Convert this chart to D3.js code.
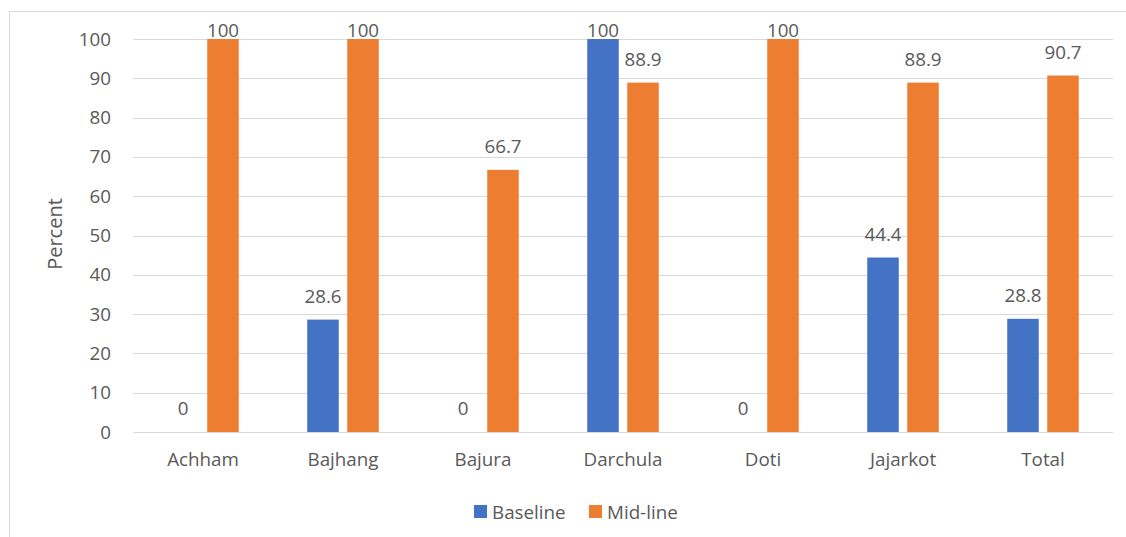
<!DOCTYPE html>
<html>
<head>
<meta charset="utf-8">
<script src="https://cdn.jsdelivr.net/npm/d3@7"></script>
<style>
  html, body { margin: 0; padding: 0; background: #fff; }
  svg { display: block; }
  text { font-family: "Open Sans", "Noto Sans", sans-serif; fill: #595959; }
</style>
</head>
<body>
<svg id="chart" width="1126" height="537"></svg>
<script>
// District coverage, baseline vs mid-line (%)
const districts = ["Achham", "Bajhang", "Bajura", "Darchula", "Doti", "Jajarkot", "Total"];
const baseline = [0, 28.6, 0, 100, 0, 44.4, 28.8];
const midline = [100, 100, 66.7, 88.9, 100, 88.9, 90.7];
const seriesNames = ["Baseline", "Mid-line"];
const seriesColors = ["#4472C4", "#ED7D31"];
const yTicks = [0, 10, 20, 30, 40, 50, 60, 70, 80, 90, 100];

const svg = d3.select("#chart");
const W = 1126, H = 537;
const FS = 18.8;

// outer chart frame
svg.append("rect")
  .attr("x", 9.5).attr("y", 11.5)
  .attr("width", W + 10).attr("height", H + 10)
  .attr("fill", "#fff").attr("stroke", "#d9d9d9").attr("stroke-width", 1);

const plot = { left: 133, right: 1113, top: 39, bottom: 432 };

const x0 = d3.scaleBand().domain(districts).range([plot.left, plot.right]).paddingInner(0).paddingOuter(0);
const y = d3.scaleLinear().domain([0, 100]).range([plot.bottom, plot.top]);

const barW = 31.5, barGap = 8.5;
const offsets = [-(barGap / 2 + barW), barGap / 2];

// gridlines
svg.append("g")
  .selectAll("line")
  .data(yTicks)
  .join("line")
  .attr("x1", plot.left).attr("x2", plot.right)
  .attr("y1", d => Math.round(y(d)) + 0.5).attr("y2", d => Math.round(y(d)) + 0.5)
  .attr("stroke", "#d9d9d9").attr("stroke-width", 1.2);

// y axis labels
const yAxis = d3.axisLeft(y).tickValues(yTicks).tickSize(0).tickPadding(0);
const gy = svg.append("g").attr("transform", `translate(${plot.left - 22},0)`).call(yAxis);
gy.select(".domain").remove();
gy.selectAll("text").attr("font-size", FS).attr("font-family", null).attr("fill", "#595959");

// x axis labels
const xAxis = d3.axisBottom(x0).tickSize(0).tickPadding(0);
const gx = svg.append("g").attr("transform", `translate(0,${plot.bottom + 21})`).call(xAxis);
gx.select(".domain").remove();
gx.selectAll("text").attr("font-size", FS).attr("font-family", null).attr("fill", "#595959");

// y axis title
svg.append("text")
  .attr("transform", `translate(62,234) rotate(-90)`)
  .attr("text-anchor", "middle")
  .attr("font-size", 20)
  .text("Percent");

// bars and value labels
const series = [baseline, midline];
series.forEach((vals, si) => {
  const g = svg.append("g");
  g.selectAll("rect")
    .data(districts.map((d, i) => ({ d, v: vals[i] })))
    .join("rect")
    .attr("x", p => x0(p.d) + x0.bandwidth() / 2 + offsets[si])
    .attr("width", barW)
    .attr("y", p => y(p.v))
    .attr("height", p => y(0) - y(p.v))
    .attr("fill", seriesColors[si]);

  g.selectAll("text")
    .data(districts.map((d, i) => ({ d, v: vals[i] })))
    .join("text")
    .attr("x", p => x0(p.d) + x0.bandwidth() / 2 + offsets[si] + barW / 2)
    .attr("y", p => Math.max(y(p.v) - 17, 37))
    .attr("text-anchor", "middle")
    .attr("font-size", FS)
    .attr("fill", "#404040")
    .text(p => p.v);
});

// legend
const legend = svg.append("g").attr("transform", "translate(474,505)");
const items = [{ n: seriesNames[0], c: seriesColors[0], x: 0 }, { n: seriesNames[1], c: seriesColors[1], x: 115 }];
items.forEach(it => {
  legend.append("rect").attr("x", it.x).attr("y", 0).attr("width", 13).attr("height", 13).attr("fill", it.c);
  legend.append("text").attr("x", it.x + 18).attr("y", 13.5).attr("font-size", FS).text(it.n);
});
</script>
</body>
</html>
